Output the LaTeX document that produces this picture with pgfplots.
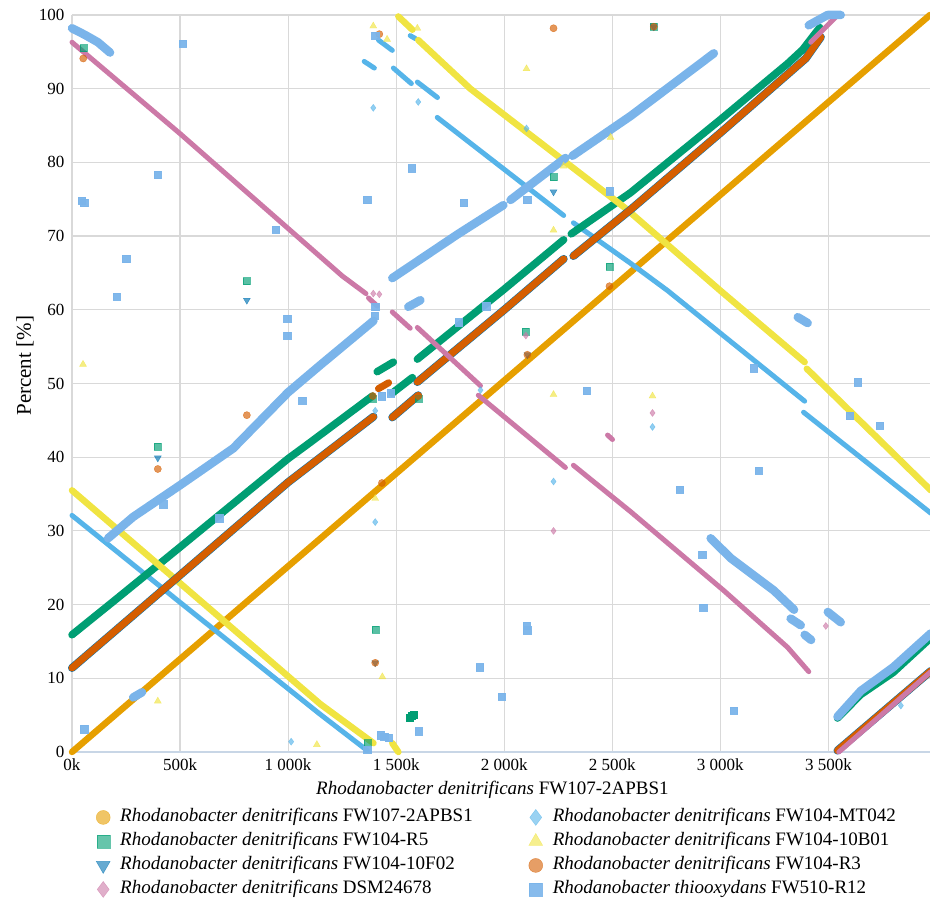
\documentclass[border=0pt]{standalone}
\usepackage{pgfplots}
\pgfplotsset{compat=1.18}
\usepackage{fontspec}
\setmainfont{Liberation Serif}
\definecolor{cOrange}{HTML}{E69F00}
\definecolor{cSky}{HTML}{56B4E9}
\definecolor{cGreen}{HTML}{009E73}
\definecolor{cYellow}{HTML}{F0E442}
\definecolor{cBlue}{HTML}{0072B2}
\definecolor{cVerm}{HTML}{D55E00}
\definecolor{cPink}{HTML}{CC79A7}
\definecolor{cR}{HTML}{7AB4EA}
\definecolor{gridc}{HTML}{D9D9D9}
\definecolor{axisc}{HTML}{C8D6E6}
\pgfplotsset{
  ln/.style={no markers, line cap=round, line join=round, forget plot},
  pts/.style={only marks, forget plot, opacity=0.65},
  leg/.style={legend image code/.code={\draw[##1, only marks] plot coordinates {(0pt,0pt)}; \path[draw=none,fill=none] (-10pt,-8pt) rectangle (15pt,8pt);}},
}
\begin{document}
\begin{tikzpicture}
\begin{axis}[
  width=858pt, height=737pt, scale only axis,
  xmin=0, xmax=3970, ymin=0, ymax=100,
  clip=false, unbounded coords=jump,
  axis x line*=bottom, axis y line*=left,
  x axis line style={-, color=axisc, line width=1.3pt},
  y axis line style={-, draw=none},
  major tick length=0pt,
  grid=major, major grid style={color=gridc, line width=1.2pt},
  xtick={0,500,1000,1500,2000,2500,3000,3500},
  xticklabels={0k,500k,1\ 000k,1\ 500k,2\ 000k,2\ 500k,3\ 000k,3\ 500k},
  ytick={0,10,...,100},
  /pgf/number format/assume math mode=true,
  tick label style={font=\fontsize{17}{20}\selectfont},
  xticklabel style={yshift=-3pt},
  yticklabel style={xshift=-4pt},
  xlabel={\textit{Rhodanobacter denitrificans} FW107-2APBS1},
  ylabel={Percent [\%]},
  label style={font=\fontsize{19}{23}\selectfont},
  xlabel style={at={(axis description cs:0.49,-0.0516)}, anchor=center},
  ylabel style={at={(axis description cs:-0.0548,0.524)}, anchor=center, font=\fontsize{21}{24}\selectfont},
  legend columns=2,
  legend cell align=left,
  legend style={draw=none, fill=none, at={(axis description cs:0.0245,-0.077)}, anchor=north west,
    inner sep=0pt, font=\fontsize{19}{23}\selectfont, row sep=7pt,
    nodes={inner ysep=0pt, text height=13pt, text depth=4pt},
    /tikz/column 2/.style={column sep=51pt}},
]
% ---------------- legend images
\addlegendimage{leg, mark=*, mark size=7pt, color=cOrange, opacity=0.6}
\addlegendentry{\textit{Rhodanobacter denitrificans} FW107-2APBS1}
\addlegendimage{leg, mark=diamond*, mark size=8pt, color=cSky, opacity=0.6}
\addlegendentry{\textit{Rhodanobacter denitrificans} FW104-MT042}
\addlegendimage{leg, mark=square*, mark size=6.5pt, color=cGreen, opacity=0.6}
\addlegendentry{\textit{Rhodanobacter denitrificans} FW104-R5}
\addlegendimage{leg, mark=triangle*, mark size=8pt, color=cYellow, opacity=0.6}
\addlegendentry{\textit{Rhodanobacter denitrificans} FW104-10B01}
\addlegendimage{leg, mark=triangle*, mark size=8pt, mark options={rotate=180}, color=cBlue, opacity=0.6}
\addlegendentry{\textit{Rhodanobacter denitrificans} FW104-10F02}
\addlegendimage{leg, mark=*, mark size=7pt, color=cVerm, opacity=0.6}
\addlegendentry{\textit{Rhodanobacter denitrificans} FW104-R3}
\addlegendimage{leg, mark=diamond*, mark size=8pt, color=cPink, opacity=0.6}
\addlegendentry{\textit{Rhodanobacter denitrificans} DSM24678}
\addlegendimage{leg, mark=square*, mark size=6.5pt, color=cR, opacity=0.9}
\addlegendentry{\textit{Rhodanobacter thiooxydans} FW510-R12}

% ---------------- FW107-2APBS1
\addplot[ln, cOrange, line width=6.5pt] coordinates {(0,0) (1000,25.2) (2000,50.4) (3000,75.6) (3970,100)};

% ---------------- FW104-MT042
\addplot[ln, cSky, line width=5pt] coordinates {
(0,32.1) (500,20.3) (1149,5.1) (1366,0.2) (1370,nan)
(1352,93.7) (1399,92.8) (1400,nan)
(1418,96.6) (1482,95.2) (1483,nan)
(1487,92.8) (1570,90.7) (1571,nan)
(1565,97.2) (1589,96.8) (1590,nan)
(1598,90.9) (1691,88.8) (1692,nan)
(1690,86.1) (2275,72.8) (2280,nan)
(2320,71.8) (2585,66.3) (2756,62.6) (3390,47.6) (3391,nan)
(3385,46.1) (3974,32.4)};
\addplot[pts, cSky, mark=diamond*, mark size=3.5pt] coordinates {
(1394,87.4) (1602,88.2) (2103,84.6) (1890,49.1) (1403,46.3) (1403,31.2)
(2228,36.7) (2686,44.1) (1014,1.4) (3835,6.3)};

% ---------------- FW104-R5
\addplot[ln, cGreen, line width=7.5pt] coordinates {
(0,15.9) (207,20.8) (500,27.8) (1000,39.8) (1102,42.0) (1390,48.3) (1400,nan)
(1412,51.6) (1487,52.9) (1488,nan)
(1482,48.7) (1575,50.8) (1580,nan)
(1598,53.3) (2000,62.8) (2275,69.5) (2290,nan)
(2310,70.3) (2585,75.9) (3000,85.8) (3311,93.4) (3381,95.3) (3460,98.3) (3470,nan)
(3542,4.6) (3650,7.8) (3800,10.8) (3974,15.5)};
\addplot[pts, cGreen, mark=square*, mark size=3.5pt] coordinates {
(52,95.5) (809,63.9) (397,41.4) (1403,16.6) (2098,57) (2228,78) (2487,65.9)
(1392,48.0) (1603,48.0) (1366,1.2) (2692,98.4)};
\addplot[pts, cGreen, mark=square*, mark size=3.5pt, opacity=1] coordinates {(1562,4.6) (1572,4.9) (1582,5.1)};

% ---------------- FW104-10B01
\addplot[ln, cYellow, line width=6.5pt] coordinates {
(0,35.5) (500,22.9) (1149,6.5) (1395,1.2) (1400,nan)
(1482,1.2) (1510,0.0) (1511,nan)
(1510,99.8) (1575,98.0) (1580,nan)
(1602,96.6) (1843,90.0) (2560,73.8) (3000,62.6) (3390,52.9) (3395,nan)
(3400,52.0) (3974,35.5)};
\addplot[pts, cYellow, mark=triangle*, mark size=4pt] coordinates {
(51,52.6) (397,6.9) (1133,1.0) (1394,98.5) (1458,96.7) (1598,98.2) (2103,92.7)
(2492,83.4) (2228,70.8) (2228,48.5) (1403,34.4) (1436,10.2) (2686,48.3) (2275,79.5)};

% ---------------- FW104-10F02
\addplot[ln, cBlue, line width=8pt] coordinates {
(0,11.4) (500,24.0) (1000,36.6) (1102,38.9) (1395,45.5) (1400,nan)
(1482,45.4) (1602,48.4) (1603,nan)
(1598,50.2) (2000,60.0) (2275,66.9) (2290,nan)
(2320,67.3) (2585,73.6) (3000,84.0) (3395,94.1) (3465,97.0) (3470,nan)
(3542,0.2) (3974,11.0)};
\addplot[pts, cBlue, mark=triangle*, mark options={rotate=180}, mark size=4pt] coordinates {
(809,61.3) (397,39.9) (2228,76.0) (1403,12.1) (2107,53.9) (2692,98.4)};

% ---------------- FW104-R3
\addplot[ln, cVerm, line width=7pt] coordinates {
(0,11.4) (500,24.0) (1000,36.6) (1102,38.9) (1395,45.5) (1400,nan)
(1418,49.3) (1465,50.1) (1470,nan)
(1482,45.4) (1602,48.4) (1603,nan)
(1598,50.2) (2000,60.0) (2275,66.9) (2290,nan)
(2320,67.3) (2585,73.6) (3000,84.0) (3395,94.1) (3465,97.0) (3470,nan)
(3542,0.2) (3974,11.0)};
\addplot[pts, cVerm, mark=*, mark size=3.6pt] coordinates {
(52,94.1) (809,45.7) (397,38.4) (2228,98.2) (2487,63.2) (1422,97.4) (1403,12.1)
(2107,53.9) (1434,36.5) (2692,98.4) (1392,48.3) (1603,48.3)};

% ---------------- DSM24678
\addplot[ln, cPink, line width=5pt] coordinates {
(0,96.3) (500,83.9) (1149,67.2) (1250,64.6) (1360,62.2) (1366,nan)
(1372,61.6) (1413,60.5) (1420,nan)
(1482,59.7) (1565,57.5) (1570,nan)
(1598,57.6) (1890,49.7) (1891,nan)
(1880,48.4) (2283,38.6) (2290,nan)
(2320,38.9) (2585,32.6) (3016,21.9) (3311,14.2) (3409,10.9) (3410,nan)
(2478,43.0) (2501,42.4) (2502,nan)
(3418,96.3) (3543,100) (3544,nan)
(3548,0) (3974,10.9)};
\addplot[pts, cPink, mark=diamond*, mark size=3.5pt] coordinates {
(1394,62.2) (1422,62.1) (2228,30) (2686,46) (3488,17.1) (2100,56.5)};

% ---------------- FW510-R12
\addplot[ln, cR, line width=8.5pt] coordinates {
(0,98.2) (60,97.3) (120,96.3) (176,94.9) (180,nan)
(283,7.4) (324,8.1) (330,nan)
(167,29.0) (283,31.9) (500,36.2) (746,41.2) (1000,48.8) (1149,52.5) (1395,58.5) (1400,nan)
(1556,60.4) (1612,61.3) (1620,nan)
(1482,64.3) (1782,70.2) (1996,74.2) (2000,nan)
(2029,74.9) (2283,80.6) (2290,nan)
(2316,80.9) (2585,86.3) (2970,94.8) (2980,nan)
(3409,98.6) (3496,100) (3557,100) (3560,nan)
(2955,29.0) (3048,26.3) (3248,21.9) (3341,19.3) (3345,nan)
(3325,18.1) (3372,17.2) (3375,nan)
(3390,15.9) (3420,15.2) (3425,nan)
(3497,19.0) (3557,17.6) (3560,nan)
(3358,59.0) (3404,58.2) (3410,nan)
(3542,4.8) (3650,8.3) (3800,11.5) (3974,16.1)};
\addplot[pts, cR, mark=square*, mark size=3.7pt, opacity=0.95] coordinates {
(513,96.1) (46,74.8) (56,74.5) (397,78.3) (943,70.9) (250,66.9) (207,61.8)
(996,58.8) (996,56.5) (1066,47.7) (422,33.6) (682,31.7) (56,3.1) (1365,74.9)
(1573,79.2) (1813,74.5) (2106,74.9) (1403,97.2) (1403,60.4) (1400,59.2)
(1434,48.3) (1476,48.7) (1788,58.3) (1917,60.5) (2381,49.0) (3155,52.1)
(3636,50.2) (3599,45.6) (3738,44.3) (3176,38.2) (2813,35.6) (2916,26.8)
(2921,19.6) (3063,5.6) (1887,11.5) (1987,7.5) (2103,17.1) (2106,16.5)
(1603,2.8) (1427,2.3) (1445,2.1) (1464,1.9) (1366,0.3) (2487,76.1)};
\end{axis}
\pgfresetboundingbox
\path ([xshift=-72pt,yshift=-149pt]current axis.south west) rectangle ([yshift=15pt]current axis.north east);
\end{tikzpicture}
\end{document}
